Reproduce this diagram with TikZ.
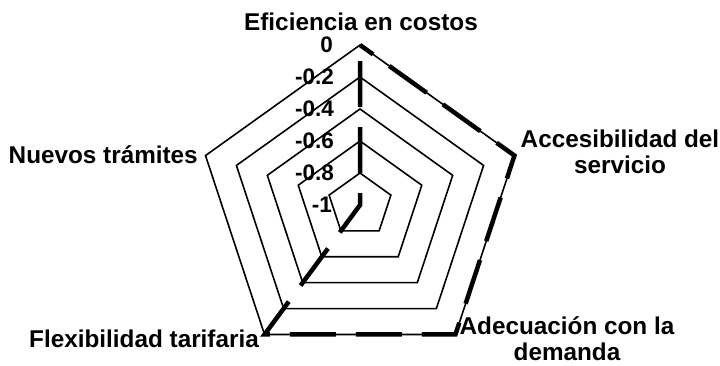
\documentclass[tikz,border=0pt]{standalone}
\usepackage{fontspec}
\setmainfont{Liberation Sans}
\usetikzlibrary{calc}
\begin{document}
\begin{tikzpicture}[x=1pt,y=-1pt,
  ring/.style={line width=1.6pt, line join=miter},
  series/.style={line width=4.5pt, dash pattern=on 46pt off 20pt, dash phase=30pt},
  cat/.style={font=\fontsize{24.3}{26}\selectfont\bfseries, align=center, inner sep=0pt},
  tick/.style={font=\fontsize{22.5}{22.5}\selectfont\bfseries, anchor=east, inner sep=0pt}]
\useasboundingbox (0,0) rectangle (720,365);
\coordinate (O) at (360,205);
\begin{scope}[shift={(O)}, yscale=-1, xscale=1.015]
  \foreach \k in {1,...,5} {
    \pgfmathsetmacro{\r}{32*\k}
    \coordinate (a\k) at (90:\r);
    \coordinate (b\k) at (18:\r);
    \coordinate (c\k) at (-54:\r);
    \coordinate (d\k) at (-126:\r);
    \coordinate (e\k) at (162:\r);
    \draw[ring] (a\k) -- (b\k) -- (c\k) -- (d\k) -- (e\k) -- cycle;
  }
  \coordinate (ctr) at (0,0);
\end{scope}
\draw[series] (a5) -- (b5) -- (c5) -- (d5) -- (ctr) -- (a5);
% tick labels
\node[tick] (t0) at (333,45) {0};
\node[tick] (t1) at (334,77) {-0.2};
\node[tick] (t2) at (334,109) {-0.4};
\node[tick] (t3) at (334,141) {-0.6};
\node[tick] (t4) at (334,173) {-0.8};
\node[tick] (t5) at (332,205) {-1};
% category labels
\node[cat, anchor=base] (lA) at (361,30) {Eficiencia en costos};
\node[cat, anchor=base] (lB) at (620,173) {Accesibilidad del\\servicio};
\node[cat, anchor=base] (lC) at (567,360) {Adecuación con la\\demanda};
\node[cat, anchor=base east] (lD) at (259,347) {Flexibilidad tarifaria};
\node[cat, anchor=base east] (lE) at (198,163) {Nuevos trámites};
\end{tikzpicture}
\end{document}
